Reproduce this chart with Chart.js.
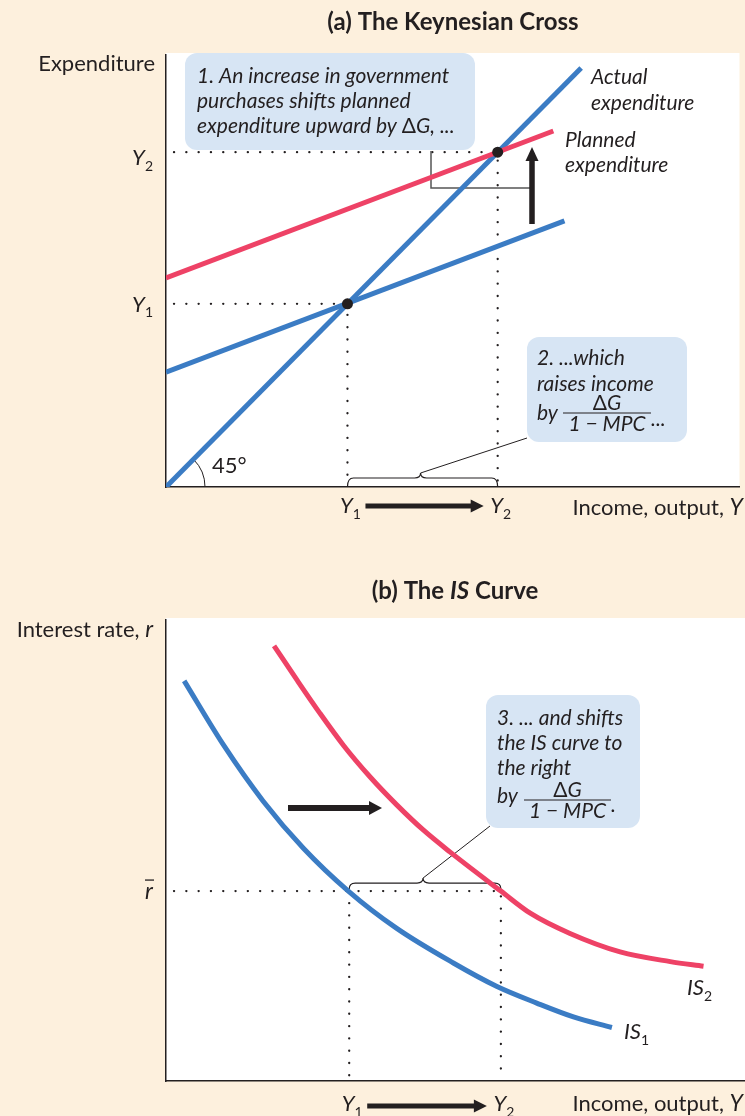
<!DOCTYPE html>
<html>
<head>
<meta charset="utf-8">
<script src="https://cdn.jsdelivr.net/npm/chart.js@4.4.1/dist/chart.umd.min.js"></script>
<style>
html, body { margin: 0; padding: 0; background: #fdf0dd; }
canvas { display: block; }
</style>
</head>
<body>
<canvas id="crossChart" width="745" height="558"></canvas>
<canvas id="isChart" width="745" height="558"></canvas>
<script>
// keynesian cross + IS curve figure

// ---- panel (a): income on x, expenditure on y ----
const actualExp = [{ x: 0, y: 0 }, { x: 97, y: 97 }];
const plannedExp1 = [{ x: 0, y: 26.6 }, { x: 93.1, y: 61.6 }];
const plannedExp2 = [{ x: 0, y: 48.4 }, { x: 90.5, y: 82.4 }];
const incomeLevels = [42.4, 77.5];          // Y1, Y2
const incomeLabels = ['1', '2'];            // subscripts
const crossPoints = [{ x: 42.4, y: 42.4 }, { x: 77.5, y: 77.5 }];

// ---- panel (b): income on x, interest rate on y ----
const is1Income = [4.2, 13.3, 22.5, 31.8, 42.2, 53.4, 66.5, 76.6, 85.8, 94.3, 103.2];
const is1Rate = [86.8, 72.9, 60.7, 50.5, 41.2, 33.1, 25.6, 20.5, 16.9, 13.9, 11.6];
const is2Income = [25.0, 30.3, 35.6, 41.0, 47.2, 53.4, 59.6, 65.7, 77.5, 84.3, 93.5, 105.1, 116.7, 124.4];
const is2Rate = [94.4, 87.0, 79.8, 72.9, 66.0, 59.9, 54.4, 49.7, 41.2, 36.4, 32.0, 28.0, 25.9, 24.9];
const rBar = 41.2;

const COLORS = {
    blue: '#3b7cc4',
    red: '#ee4266',
    ink: '#231f20',
    box: '#d7e5f4',
    grey: '#555',
};
const FAMILY = 'Lato, "Open Sans", sans-serif';
const f = (size, style = '', weight = '') => `${style} ${weight} ${size}px ${FAMILY}`;
const NOTE = f(21, 'italic');
const LABEL = f(22);

// draw text made of several runs (different fonts / offsets)
function runs(ctx, parts, x, y, align = 'left') {
    ctx.textBaseline = 'middle';
    ctx.textAlign = 'left';
    let total = 0;
    parts.forEach(p => { ctx.font = p[1]; total += ctx.measureText(p[0]).width; });
    let cx = align === 'right' ? x - total : align === 'center' ? x - total / 2 : x;
    parts.forEach(p => {
        ctx.font = p[1];
        ctx.fillText(p[0], cx, y + (p[2] || 0));
        cx += ctx.measureText(p[0]).width;
    });
}

function yLabelSub(ctx, sub, x, y, align) {
    runs(ctx, [['Y', f(22, 'italic')], [sub, f(14), 8]], x, y, align);
}

function arrow(ctx, x1, y1, x2, y2, w, headLen, headW) {
    const ang = Math.atan2(y2 - y1, x2 - x1);
    ctx.save();
    ctx.translate(x1, y1);
    ctx.rotate(ang);
    const len = Math.hypot(x2 - x1, y2 - y1);
    ctx.fillStyle = COLORS.ink;
    ctx.fillRect(0, -w / 2, len - headLen + 1, w);
    ctx.beginPath();
    ctx.moveTo(len, 0);
    ctx.lineTo(len - headLen, -headW / 2);
    ctx.lineTo(len - headLen, headW / 2);
    ctx.closePath();
    ctx.fill();
    ctx.restore();
}

function dotted(ctx, pts) {
    ctx.save();
    ctx.strokeStyle = COLORS.ink;
    ctx.lineWidth = 2.3;
    ctx.lineCap = 'round';
    ctx.setLineDash([0.1, 12.2]);
    ctx.beginPath();
    ctx.moveTo(pts[0][0], pts[0][1]);
    for (let i = 1; i < pts.length; i++) ctx.lineTo(pts[i][0], pts[i][1]);
    ctx.stroke();
    ctx.restore();
}

// curly brace opening downward; returns cusp point
function brace(ctx, x1, x2, yBase, h) {
    const mid = (x1 + x2) / 2 - 2;
    const yTop = yBase - h;
    const r = 6;
    ctx.save();
    ctx.strokeStyle = COLORS.ink;
    ctx.lineWidth = 1.2;
    ctx.beginPath();
    ctx.moveTo(x1, yBase);
    ctx.quadraticCurveTo(x1, yTop, x1 + r, yTop);
    ctx.lineTo(mid - r, yTop);
    ctx.quadraticCurveTo(mid, yTop, mid, yTop - 5);
    ctx.quadraticCurveTo(mid, yTop, mid + r, yTop);
    ctx.lineTo(x2 - r, yTop);
    ctx.quadraticCurveTo(x2, yTop, x2, yBase);
    ctx.stroke();
    ctx.restore();
    return [mid, yTop - 5];
}

function noteBox(ctx, x, y, w, h) {
    ctx.save();
    ctx.fillStyle = COLORS.box;
    ctx.beginPath();
    ctx.roundRect(x, y, w, h, 12);
    ctx.fill();
    ctx.restore();
}

function fraction(ctx, x, yLine, w) {
    ctx.save();
    ctx.fillStyle = COLORS.ink;
    runs(ctx, [['\u0394', f(21)], ['G', NOTE]], x + w / 2, yLine - 10, 'center');
    runs(ctx, [['1 \u2212 MPC', NOTE]], x + w / 2, yLine + 11, 'center');
    ctx.strokeStyle = COLORS.ink;
    ctx.lineWidth = 1;
    ctx.beginPath();
    ctx.moveTo(x, yLine);
    ctx.lineTo(x + w, yLine);
    ctx.stroke();
    ctx.restore();
}

function leader(ctx, from, to) {
    ctx.save();
    ctx.strokeStyle = COLORS.ink;
    ctx.lineWidth = 1;
    ctx.beginPath();
    ctx.moveTo(from[0], from[1]);
    ctx.lineTo(to[0], to[1]);
    ctx.stroke();
    ctx.restore();
}

const whitePlot = {
    id: 'whitePlot',
    beforeDraw(chart) {
        const { ctx, chartArea: a } = chart;
        ctx.save();
        ctx.fillStyle = '#fff';
        ctx.fillRect(a.left, a.top - 2, a.right - a.left, a.bottom - a.top + 2);
        ctx.restore();
    }
};

const hiddenAxis = (min, max, dim) => ({
    type: 'linear',
    min, max,
    ticks: { display: false },
    grid: { display: false, drawTicks: false },
    border: { display: true, color: COLORS.ink, width: 1.5 },
    afterFit: s => { s[dim] = 0; }
});

const baseOptions = (padding, yMax) => ({
    responsive: false,
    animation: false,
    events: [],
    layout: { padding },
    plugins: { legend: { display: false }, tooltip: { enabled: false } },
    scales: { x: hiddenAxis(0, 134, 'height'), y: hiddenAxis(0, yMax, 'width') }
});

// ==========================================
// Panel (a) — The Keynesian Cross
// ==========================================
const crossDecor = {
    id: 'crossDecor',
    beforeDatasetsDraw(chart) {
        const { ctx, scales: { x, y }, chartArea: a } = chart;
        const px = incomeLevels.map(v => x.getPixelForValue(v));
        const py = incomeLevels.map(v => y.getPixelForValue(v));
        dotted(ctx, [[a.left + 8, py[1]], [px[1], py[1]], [px[1], a.bottom - 4]]);
        dotted(ctx, [[a.left + 8, py[0]], [px[0], py[0]], [px[0], a.bottom - 4]]);

        // bracket from note box to the shift arrow
        ctx.save();
        ctx.strokeStyle = COLORS.grey;
        ctx.lineWidth = 1.5;
        ctx.beginPath();
        ctx.moveTo(431, 151);
        ctx.lineTo(431, 188);
        ctx.lineTo(532, 188);
        ctx.stroke();

        // 45 degree arc
        ctx.strokeStyle = COLORS.ink;
        ctx.lineWidth = 1;
        ctx.beginPath();
        ctx.arc(a.left, a.bottom, 39, -Math.PI / 4, 0);
        ctx.stroke();
        ctx.restore();
    },
    afterDatasetsDraw(chart) {
        const { ctx, scales: { x }, chartArea: a } = chart;
        const px = incomeLevels.map(v => x.getPixelForValue(v));
        ctx.save();

        // upward shift arrow
        arrow(ctx, 532, 224, 532, 147, 5.5, 14, 13);

        // note 1
        noteBox(ctx, 185, 53, 290, 97);
        ctx.fillStyle = COLORS.ink;
        runs(ctx, [['1. An increase in government', NOTE]], 197, 76);
        runs(ctx, [['purchases shifts planned', NOTE]], 197, 101);
        runs(ctx, [['expenditure upward by ', NOTE], ['\u0394', f(21)], ['G, ...', NOTE]], 197, 126);

        // note 2
        noteBox(ctx, 527, 337, 160, 105);
        ctx.fillStyle = COLORS.ink;
        runs(ctx, [['2. ...which', NOTE]], 537, 358);
        runs(ctx, [['raises income', NOTE]], 537, 384);
        runs(ctx, [['by', NOTE]], 537, 413);
        fraction(ctx, 563, 413, 88);
        runs(ctx, [['...', NOTE]], 651, 419);

        // brace between Y1 and Y2 with leader to note 2
        const cusp = brace(ctx, px[0], px[1], a.bottom, 9);
        leader(ctx, cusp, [527, 438]);

        // curve labels
        ctx.fillStyle = COLORS.ink;
        runs(ctx, [['Actual', NOTE]], 591, 77);
        runs(ctx, [['expenditure', NOTE]], 591, 103);
        runs(ctx, [['Planned', NOTE]], 565, 140);
        runs(ctx, [['expenditure', NOTE]], 565, 165);

        runs(ctx, [['45\u00b0', LABEL]], 212, 466);
        ctx.restore();
    },
    afterDraw(chart) {
        const { ctx, scales: { x, y } } = chart;
        const px = incomeLevels.map(v => x.getPixelForValue(v));
        const py = incomeLevels.map(v => y.getPixelForValue(v));
        ctx.save();
        ctx.fillStyle = COLORS.ink;
        runs(ctx, [['(a) The Keynesian Cross', f(24, '', 'bold')]], 453, 22, 'center');
        runs(ctx, [['Expenditure', LABEL]], 155, 64, 'right');
        incomeLabels.forEach((s, i) => yLabelSub(ctx, s, 153, py[i] + (i ? 6 : 1), 'right'));
        incomeLabels.forEach((s, i) => yLabelSub(ctx, s, px[i] + 3, 506, 'center'));
        arrow(ctx, px[0] + 18, 506, px[1] - 14, 506, 5, 13, 13);
        runs(ctx, [['Income, output, ', LABEL], ['Y', f(23, 'italic')]], 743, 508, 'right');
        ctx.restore();
    }
};

new Chart(document.getElementById('crossChart'), {
    type: 'scatter',
    data: {
        datasets: [
            { data: crossPoints, pointRadius: 5.5, backgroundColor: COLORS.ink, borderWidth: 0, showLine: false },
            { data: plannedExp2, showLine: true, borderColor: COLORS.red, borderWidth: 5, pointRadius: 0 },
            { data: actualExp, showLine: true, borderColor: COLORS.blue, borderWidth: 5, pointRadius: 0 },
            { data: plannedExp1, showLine: true, borderColor: COLORS.blue, borderWidth: 5, pointRadius: 0 },
        ]
    },
    options: baseOptions({ left: 166, top: 55, right: 0, bottom: 71 }, 100),
    plugins: [whitePlot, crossDecor]
});

// ==========================================
// Panel (b) — The IS Curve
// ==========================================
const isDecor = {
    id: 'isDecor',
    beforeDatasetsDraw(chart) {
        const { ctx, scales: { x, y }, chartArea: a } = chart;
        const px = incomeLevels.map(v => x.getPixelForValue(v));
        const pr = y.getPixelForValue(rBar);
        dotted(ctx, [[a.left + 8, pr], [px[1], pr], [px[1], a.bottom - 4]]);
        dotted(ctx, [[px[0], pr + 12], [px[0], a.bottom - 4]]);
        const cusp = brace(ctx, px[0], px[1], pr - 2, 6);
        leader(ctx, cusp, [490, 268]);
    },
    afterDatasetsDraw(chart) {
        const { ctx } = chart;
        ctx.save();
        arrow(ctx, 288, 250, 382, 250, 6, 13, 14);

        noteBox(ctx, 486, 137, 154, 133);
        ctx.fillStyle = COLORS.ink;
        runs(ctx, [['3. ... and shifts', NOTE]], 497, 160);
        runs(ctx, [['the IS curve to', NOTE]], 497, 185);
        runs(ctx, [['the right', NOTE]], 497, 210);
        runs(ctx, [['by', NOTE]], 497, 238);
        fraction(ctx, 524, 242, 87);
        runs(ctx, [['.', NOTE]], 611, 247);

        runs(ctx, [['IS', f(22, 'italic')], ['1', f(14), 8]], 624, 474);
        runs(ctx, [['IS', f(22, 'italic')], ['2', f(14), 8]], 687, 430);
        ctx.restore();
    },
    afterDraw(chart) {
        const { ctx, scales: { x, y } } = chart;
        const px = incomeLevels.map(v => x.getPixelForValue(v));
        const pr = y.getPixelForValue(rBar);
        ctx.save();
        ctx.fillStyle = COLORS.ink;
        runs(ctx, [['(b) The ', f(24, '', 'bold')], ['IS', f(24, 'italic', 'bold')], [' Curve', f(24, '', 'bold')]], 455, 33, 'center');
        runs(ctx, [['Interest rate, ', LABEL], ['r', f(23, 'italic')]], 153, 72, 'right');
        runs(ctx, [['r', f(23, 'italic')]], 149, pr + 1, 'center');
        ctx.strokeStyle = COLORS.ink;
        ctx.lineWidth = 1.3;
        ctx.beginPath();
        ctx.moveTo(145, pr - 11);
        ctx.lineTo(154, pr - 11);
        ctx.stroke();
        incomeLabels.forEach((s, i) => yLabelSub(ctx, s, px[i] + 3, 546, 'center'));
        arrow(ctx, px[0] + 18, 548, px[1] - 14, 548, 5, 13, 13);
        runs(ctx, [['Income, output, ', LABEL], ['Y', f(23, 'italic')]], 743, 546, 'right');
        ctx.restore();
    }
};

const toPoints = (xs, ys) => xs.map((v, i) => ({ x: v, y: ys[i] }));

new Chart(document.getElementById('isChart'), {
    type: 'scatter',
    data: {
        datasets: [
            { data: toPoints(is2Income, is2Rate), showLine: true, borderColor: COLORS.red, borderWidth: 5, pointRadius: 0, cubicInterpolationMode: 'monotone' },
            { data: toPoints(is1Income, is1Rate), showLine: true, borderColor: COLORS.blue, borderWidth: 5, pointRadius: 0, cubicInterpolationMode: 'monotone' },
        ]
    },
    options: baseOptions({ left: 166, top: 62, right: 0, bottom: 35 }, 100),
    plugins: [whitePlot, isDecor]
});
</script>
</body>
</html>
